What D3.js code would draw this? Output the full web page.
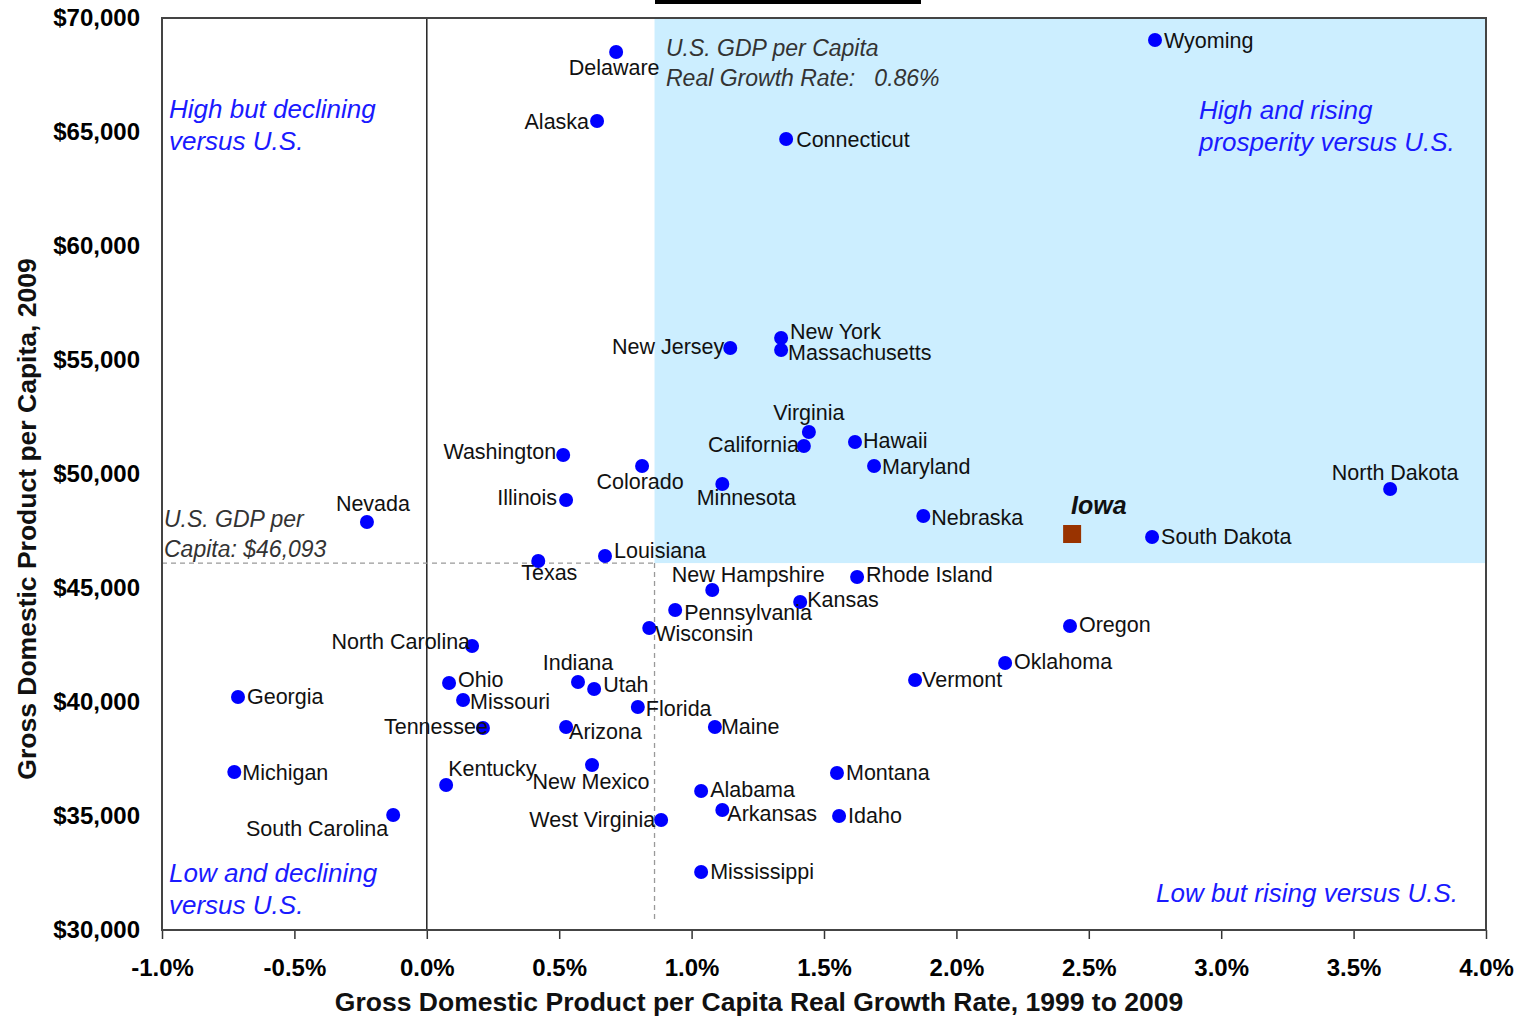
<!DOCTYPE html>
<html lang="en">
<head>
  <meta charset="UTF-8">
  <title>GDP per Capita vs Growth Rate</title>
  <script src="https://d3js.org/d3.v7.min.js"></script>
  <style>
    body { margin: 0; background: #fff; font-family: "Liberation Sans", Arial, sans-serif; }
    .tick text { font-family: "Liberation Sans", Arial, sans-serif; font-weight: bold; font-size: 24px; fill: #000; }
    .state-label { font-size: 21.5px; fill: #111; }
    .quad { font-size: 26px; font-style: italic; fill: #1a1aff; }
    .note { font-size: 23px; font-style: italic; fill: #333; white-space: pre; }
    .axis-title { font-size: 26.5px; font-weight: bold; fill: #111; }
  </style>
</head>
<body>
<div id="chart"></div>
<script>
  // state data: real growth rate 1999-2009 (%) and GDP per capita 2009 ($)
  var states = ["Wyoming", "Delaware", "Alaska", "Connecticut", "New York", "Massachusetts", "New Jersey",
    "Virginia", "California", "Hawaii", "Maryland", "Washington", "Colorado", "Minnesota", "Illinois",
    "Nevada", "Nebraska", "South Dakota", "North Dakota", "Texas", "Louisiana", "New Hampshire",
    "Rhode Island", "Kansas", "Pennsylvania", "Wisconsin", "Oregon", "North Carolina", "Oklahoma",
    "Vermont", "Georgia", "Ohio", "Indiana", "Utah", "Missouri", "Florida", "Tennessee", "Arizona",
    "Maine", "Michigan", "Kentucky", "New Mexico", "Montana", "Alabama", "Arkansas", "Idaho",
    "South Carolina", "West Virginia", "Mississippi"];
  var growth = [2.75, 0.715, 0.643, 1.357, 1.338, 1.338, 1.146,
    1.443, 1.424, 1.617, 1.689, 0.515, 0.813, 1.116, 0.526,
    -0.226, 1.875, 2.739, 3.638, 0.421, 0.673, 1.078,
    1.625, 1.410, 0.938, 0.840, 2.429, 0.171, 2.184,
    1.844, -0.713, 0.084, 0.571, 0.632, 0.137, 0.797, 0.212, 0.526,
    1.088, -0.727, 0.073, 0.624, 1.549, 1.036, 1.116, 1.557,
    -0.127, 0.885, 1.036];
  var gdp = [69035, 68509, 65482, 64693, 55965, 55439, 55526,
    51842, 51228, 51404, 50351, 50833, 50351, 49561, 48860,
    47895, 48158, 47237, 49342, 46184, 46403, 44912,
    45482, 44386, 44035, 43246, 43333, 42456, 41711,
    40965, 40219, 40833, 40877, 40570, 40088, 39781, 38860, 38904,
    38904, 36930, 36360, 37237, 36886, 36096, 35263, 35000,
    35044, 34825, 32544];

  var iowa = { name: "Iowa", growth: 2.437, gdp: 47368 };
  var usGrowth = 0.86, usGdp = 46093;

  var xTicks = [-1, -0.5, 0, 0.5, 1, 1.5, 2, 2.5, 3, 3.5, 4];
  var yTicks = [30000, 35000, 40000, 45000, 50000, 55000, 60000, 65000, 70000];

  // label placement around each dot: [dx, dy, anchor]
  var labelPos = {
    "Wyoming": [9, 8, "start"], "Delaware": [-2, 23, "middle"], "Alaska": [-8, 8, "end"],
    "Connecticut": [10, 8, "start"], "New York": [9, 1, "start"], "Massachusetts": [7, 10, "start"],
    "New Jersey": [-6, 6, "end"], "Virginia": [0, -12, "middle"], "California": [-5, 6, "end"],
    "Hawaii": [8, 6, "start"], "Maryland": [8, 8, "start"], "Washington": [-7, 4, "end"],
    "Colorado": [-2, 23, "middle"], "Minnesota": [24, 21, "middle"], "Illinois": [-9, 5, "end"],
    "Nevada": [6, -11, "middle"], "Nebraska": [8, 9, "start"], "South Dakota": [9, 7, "start"],
    "North Dakota": [5, -9, "middle"], "Texas": [11, 19, "middle"], "Louisiana": [9, 2, "start"],
    "New Hampshire": [36, -8, "middle"], "Rhode Island": [9, 5, "start"], "Kansas": [7, 5, "start"],
    "Pennsylvania": [9, 10, "start"], "Wisconsin": [6, 13, "start"], "Oregon": [9, 6, "start"],
    "North Carolina": [-2, 3, "end"], "Oklahoma": [9, 6, "start"], "Vermont": [7, 7, "start"],
    "Georgia": [9, 7, "start"], "Ohio": [9, 4, "start"], "Indiana": [0, -12, "middle"],
    "Utah": [9, 3, "start"], "Missouri": [7, 9, "start"], "Florida": [8, 9, "start"],
    "Tennessee": [5, 6, "end"], "Arizona": [3, 12, "start"], "Maine": [6, 7, "start"],
    "Michigan": [8, 8, "start"], "Kentucky": [2, -9, "start"], "New Mexico": [-1, 24, "middle"],
    "Montana": [9, 7, "start"], "Alabama": [9, 6, "start"], "Arkansas": [5, 11, "start"],
    "Idaho": [9, 7, "start"], "South Carolina": [-5, 21, "end"], "West Virginia": [-6, 7, "end"],
    "Mississippi": [9, 7, "start"]
  };

  var margin = { top: 18, right: 34, bottom: 87, left: 162 },
    W = 1520, H = 1017,
    width = W - margin.left - margin.right,
    height = H - margin.top - margin.bottom;

  var svg = d3.select("#chart").append("svg")
    .attr("width", W)
    .attr("height", H);

  // cropped title bar at the very top
  svg.append("rect")
    .attr("x", 655).attr("y", 0).attr("width", 266).attr("height", 4)
    .attr("fill", "#000");

  var g = svg.append("g")
    .attr("transform", "translate(" + margin.left + "," + margin.top + ")");

  var x = d3.scaleLinear().domain([-1, 4]).range([0, width]);
  var y = d3.scaleLinear().domain([30000, 70000]).range([height, 0]);

  // shaded "high and rising" quadrant
  g.append("rect")
    .attr("x", x(usGrowth))
    .attr("y", y(70000))
    .attr("width", x(4) - x(usGrowth))
    .attr("height", y(usGdp) - y(70000))
    .attr("fill", "#cceeff");

  // zero growth line
  g.append("line")
    .attr("x1", x(0)).attr("x2", x(0))
    .attr("y1", y(70000)).attr("y2", y(30000))
    .attr("stroke", "#222").attr("stroke-width", 1.5);

  // US reference lines
  g.append("line")
    .attr("x1", x(-1)).attr("x2", x(usGrowth))
    .attr("y1", y(usGdp)).attr("y2", y(usGdp))
    .attr("stroke", "#999").attr("stroke-width", 1.3)
    .attr("stroke-dasharray", "5,4");
  g.append("line")
    .attr("x1", x(usGrowth)).attr("x2", x(usGrowth))
    .attr("y1", y(usGdp)).attr("y2", y(30400))
    .attr("stroke", "#999").attr("stroke-width", 1.3)
    .attr("stroke-dasharray", "5,4");

  // axes
  var xAxis = g.append("g")
    .attr("transform", "translate(0," + height + ")")
    .call(d3.axisBottom(x).tickValues(xTicks).tickSize(9).tickPadding(20)
      .tickFormat(function (d) { return d.toFixed(1) + "%"; }));
  xAxis.select(".domain").remove();
  xAxis.selectAll(".tick line").attr("stroke", "#333").attr("stroke-width", 1.5);

  var yAxis = g.append("g")
    .call(d3.axisLeft(y).tickValues(yTicks).tickSize(0).tickPadding(22)
      .tickFormat(function (d) { return "$" + d3.format(",")(d); }));
  yAxis.select(".domain").remove();

  // plot frame
  g.append("rect")
    .attr("x", 0).attr("y", 0)
    .attr("width", width).attr("height", height)
    .attr("fill", "none")
    .attr("stroke", "#444").attr("stroke-width", 2);

  // state dots + labels
  var data = states.map(function (s, i) { return { name: s, growth: growth[i], gdp: gdp[i] }; });

  g.selectAll("circle.state")
    .data(data)
    .enter().append("circle")
    .attr("class", "state")
    .attr("cx", function (d) { return x(d.growth); })
    .attr("cy", function (d) { return y(d.gdp); })
    .attr("r", 7)
    .attr("fill", "#0000ff");

  g.selectAll("text.state-label")
    .data(data)
    .enter().append("text")
    .attr("class", "state-label")
    .attr("x", function (d) { return x(d.growth) + labelPos[d.name][0]; })
    .attr("y", function (d) { return y(d.gdp) + labelPos[d.name][1]; })
    .attr("text-anchor", function (d) { return labelPos[d.name][2]; })
    .text(function (d) { return d.name; });

  // Iowa highlighted
  g.append("rect")
    .attr("x", x(iowa.growth) - 9)
    .attr("y", y(iowa.gdp) - 9)
    .attr("width", 18).attr("height", 18)
    .attr("fill", "#993300");
  g.append("text")
    .attr("x", x(iowa.growth) - 1)
    .attr("y", y(iowa.gdp) - 20)
    .attr("font-size", "25px")
    .attr("font-weight", "bold")
    .attr("font-style", "italic")
    .attr("fill", "#111")
    .text(iowa.name);

  // quadrant captions
  function twoLines(xp, yp, lines, cls, anchor) {
    var t = g.append("text").attr("class", cls).attr("text-anchor", anchor || "start");
    lines.forEach(function (l, i) {
      t.append("tspan").attr("x", xp).attr("y", yp + i * 32).text(l);
    });
  }
  twoLines(7, 100, ["High but declining", "versus U.S."], "quad");
  twoLines(1037, 101, ["High and rising", "prosperity versus U.S."], "quad");
  twoLines(7, 864, ["Low and declining", "versus U.S."], "quad");
  twoLines(1296, 884, ["Low but rising versus U.S."], "quad", "end");

  var note = g.append("text").attr("class", "note");
  note.append("tspan").attr("x", 504).attr("y", 38).text("U.S. GDP per Capita");
  note.append("tspan").attr("x", 504).attr("y", 68).text("Real Growth Rate:\u00a0\u00a0 " + usGrowth.toFixed(2) + "%");

  var note2 = g.append("text").attr("class", "note");
  note2.append("tspan").attr("x", 2).attr("y", 509).text("U.S. GDP per");
  note2.append("tspan").attr("x", 2).attr("y", 539).text("Capita: $" + d3.format(",")(usGdp));

  // axis titles
  svg.append("text")
    .attr("class", "axis-title")
    .attr("x", 759).attr("y", 1011)
    .attr("text-anchor", "middle")
    .text("Gross Domestic Product per Capita Real Growth Rate, 1999 to 2009");

  svg.append("text")
    .attr("class", "axis-title")
    .attr("transform", "translate(36,519) rotate(-90)")
    .attr("text-anchor", "middle")
    .text("Gross Domestic Product per Capita, 2009");
</script>
</body>
</html>
